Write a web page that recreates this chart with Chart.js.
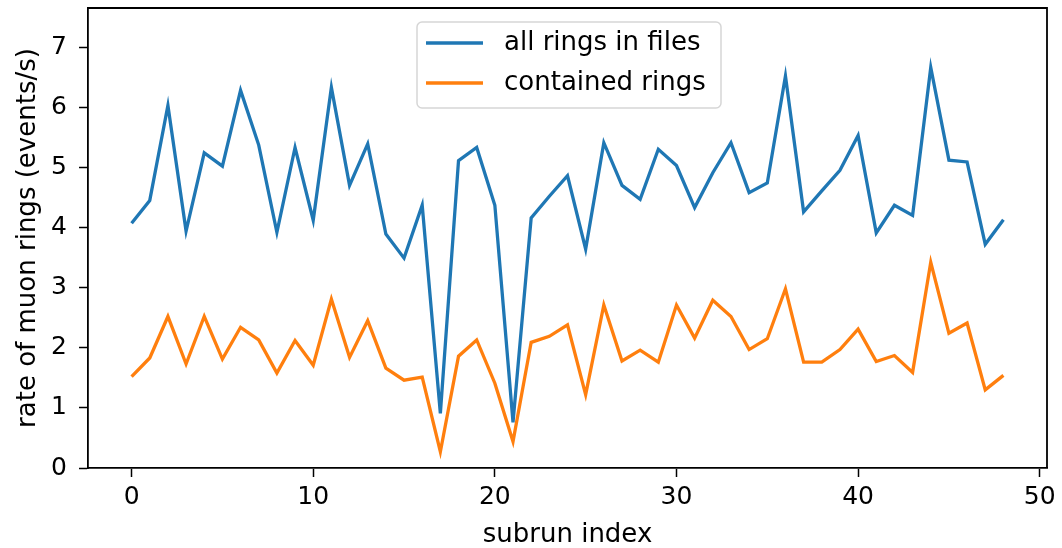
<!DOCTYPE html>
<html>
<head>
<meta charset="utf-8">
<script src="https://cdn.jsdelivr.net/npm/chart.js@4"></script>
<style>
    html, body { margin: 0; padding: 0; background: #fff; }
    #wrap { width: 1062px; height: 548px; }
</style>
</head>
<body>
<div id="wrap"><canvas id="ratesChart" width="1062" height="548"></canvas></div>
<script>
// Data
const subrunIndex = [];
for (let i = 0; i < 49; i++) subrunIndex.push(i);

const allRings = [4.07, 4.45, 6.03, 3.94, 5.24, 5.02, 6.28, 5.37, 3.92, 5.33,
    4.12, 6.33, 4.70, 5.39, 3.89, 3.49, 4.37, 0.91, 5.11, 5.33,
    4.37, 0.76, 4.16, 4.52, 4.86, 3.64, 5.41, 4.70, 4.47, 5.30,
    5.03, 4.33, 4.91, 5.41, 4.58, 4.74, 6.52, 4.26, 4.61, 4.95,
    5.53, 3.91, 4.37, 4.20, 6.66, 5.12, 5.09, 3.72, 4.13];

const containedRings = [1.52, 1.83, 2.52, 1.73, 2.52, 1.81, 2.34, 2.13, 1.58, 2.12,
    1.71, 2.81, 1.84, 2.45, 1.66, 1.46, 1.51, 0.27, 1.86, 2.13,
    1.41, 0.44, 2.09, 2.19, 2.38, 1.22, 2.71, 1.78, 1.96, 1.76,
    2.71, 2.16, 2.79, 2.52, 1.97, 2.15, 2.98, 1.76, 1.76, 1.97,
    2.31, 1.77, 1.87, 1.59, 3.42, 2.24, 2.41, 1.30, 1.54];

const xTicks = [0, 10, 20, 30, 40, 50];
const yTicks = [0, 1, 2, 3, 4, 5, 6, 7];
const seriesLabels = ['all rings in files', 'contained rings'];
const seriesColors = ['#1f77b4', '#ff7f0e'];

const FONT = '"DejaVu Sans", sans-serif';

function toPoints(values) {
    return values.map((v, i) => ({ x: subrunIndex[i], y: v }));
}

// Drop the label-overflow padding so the plot box sits where the reference has it
function noScalePadding(axis) {
    axis.paddingTop = 0;
    axis.paddingBottom = 0;
    axis.paddingLeft = 0;
    axis.paddingRight = 0;
}

// Matplotlib-style legend box drawn inside the plot
const boxLegend = {
    id: 'boxLegend',
    afterDraw(chart) {
        const ctx = chart.ctx;
        const x = 417, y = 22, w = 304, h = 86, r = 5;
        ctx.save();
        ctx.beginPath();
        ctx.moveTo(x + r, y);
        ctx.arcTo(x + w, y, x + w, y + h, r);
        ctx.arcTo(x + w, y + h, x, y + h, r);
        ctx.arcTo(x, y + h, x, y, r);
        ctx.arcTo(x, y, x + w, y, r);
        ctx.closePath();
        ctx.fillStyle = 'rgba(255,255,255,0.8)';
        ctx.fill();
        ctx.strokeStyle = '#d6d6d6';
        ctx.lineWidth = 1.5;
        ctx.stroke();

        ctx.font = '26px ' + FONT;
        ctx.textBaseline = 'middle';
        ctx.textAlign = 'left';
        seriesLabels.forEach((label, i) => {
            const ly = 43 + i * 40;
            ctx.beginPath();
            ctx.moveTo(426, ly);
            ctx.lineTo(483, ly);
            ctx.strokeStyle = seriesColors[i];
            ctx.lineWidth = 3.3;
            ctx.stroke();
            ctx.fillStyle = '#000';
            ctx.fillText(label, 504, ly);
        });
        ctx.restore();
    }
};

const ctx = document.getElementById('ratesChart').getContext('2d');
const ratesChart = new Chart(ctx, {
    type: 'line',
    data: {
        datasets: [
            {
                label: seriesLabels[0],
                data: toPoints(allRings),
                borderColor: seriesColors[0],
                borderWidth: 3.3,
                pointRadius: 0,
                tension: 0,
                fill: false
            },
            {
                label: seriesLabels[1],
                data: toPoints(containedRings),
                borderColor: seriesColors[1],
                borderWidth: 3.3,
                pointRadius: 0,
                tension: 0,
                fill: false
            }
        ]
    },
    options: {
        responsive: false,
        animation: false,
        layout: { padding: { left: 0, top: 8, right: 15, bottom: 0 } },
        plugins: {
            legend: { display: false },
            tooltip: { enabled: false }
        },
        scales: {
            x: {
                type: 'linear',
                min: -2.4,
                max: 50.4,
                afterBuildTicks: axis => { axis.ticks = xTicks.map(v => ({ value: v })); },
                afterFit: axis => { axis.height = 80; noScalePadding(axis); },
                grid: { drawOnChartArea: false, color: '#000', tickLength: 9, tickWidth: 1.5 },
                border: { color: '#000', width: 1.8 },
                ticks: { color: '#000', font: { family: FONT, size: 25, lineHeight: 1 }, padding: 8, maxRotation: 0 },
                title: {
                    display: true,
                    text: 'subrun index',
                    color: '#000',
                    font: { family: FONT, size: 26, lineHeight: 1 },
                    padding: { top: 0, bottom: 0 }
                }
            },
            y: {
                min: 0,
                max: 7.65,
                afterBuildTicks: axis => { axis.ticks = yTicks.map(v => ({ value: v })); },
                afterFit: axis => { axis.width = 88; noScalePadding(axis); },
                grid: { drawOnChartArea: false, color: '#000', tickLength: 9, tickWidth: 1.5 },
                border: { color: '#000', width: 1.8 },
                ticks: { color: '#000', font: { family: FONT, size: 25, lineHeight: 1 }, padding: 12 },
                title: {
                    display: true,
                    text: 'rate of muon rings (events/s)',
                    color: '#000',
                    font: { family: FONT, size: 26, lineHeight: 1 },
                    padding: { top: 15, bottom: 0 }
                }
            }
        }
    },
    plugins: [boxLegend, {
        id: 'rightTopBorder',
        afterDraw(chart) {
            const a = chart.chartArea;
            const c = chart.ctx;
            c.save();
            c.strokeStyle = '#000';
            c.lineWidth = 1.8;
            c.beginPath();
            c.moveTo(a.left, a.top);
            c.lineTo(a.right, a.top);
            c.lineTo(a.right, a.bottom);
            c.stroke();
            c.restore();
        }
    }]
});
</script>
</body>
</html>
